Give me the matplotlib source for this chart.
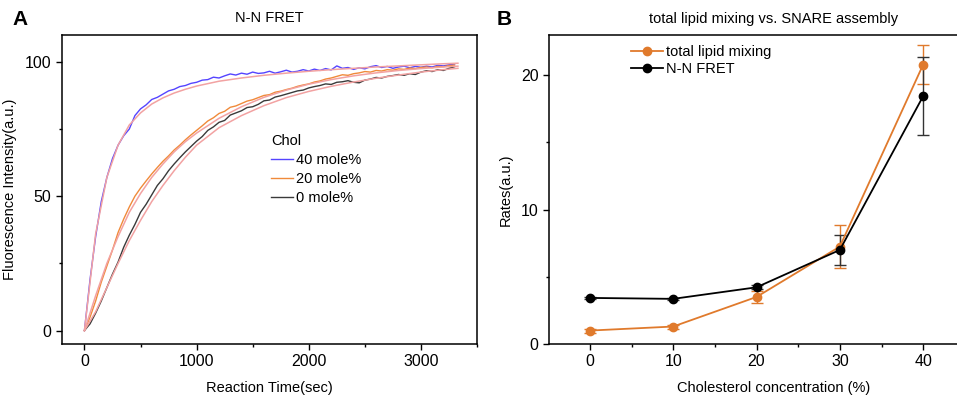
import matplotlib
matplotlib.use('Agg')
import numpy as np
import matplotlib.pyplot as plt
from matplotlib.ticker import MultipleLocator

plt.rcParams['font.family'] = ['Liberation Sans', 'DejaVu Sans']

# ---- panel A: N-N FRET traces, sampled every 50 s ----
t_data = np.arange(0, 3350, 50)
chol40 = [0, 19, 35, 48, 57, 64, 69, 72.5, 75, 80, 82.5, 84, 86, 86.8, 88, 89.2, 89.8,
          90.8, 91.2, 92, 92.4, 93.2, 93.4, 94.3, 94, 94.8, 95.5, 95.1, 95.8, 95.4, 96.2,
          95.7, 95.9, 96.5, 95.8, 96.3, 96.9, 96.2, 96.5, 97.1, 96.6, 97.3, 96.8, 97.5, 97,
          98.5, 97.6, 97.9, 97.2, 97.8, 97.4, 98.2, 98.6, 97.9, 98.3, 97.6, 98.1, 98.4, 97.8,
          98.3, 98.0, 98.4, 98.1, 98.7, 98.5, 98.9, 99.2]
chol20 = [0, 5, 11, 18, 24, 30, 36.5, 41.5, 46, 50, 53, 55.7, 58.3, 60.7, 63, 65, 67.2,
          69, 71, 72.8, 74.5, 76.2, 78, 79.2, 80.8, 81.6, 83.1, 83.6, 84.5, 85.4, 85.9,
          86.7, 87.5, 87.8, 88.7, 89.1, 89.7, 90.2, 90.9, 91.4, 91.8, 92.5, 92.9, 93.6, 94.0,
          94.6, 95.2, 95.0, 95.6, 95.9, 96.4, 96.2, 96.8, 96.6, 97.1, 96.9, 97.4, 97.2, 97.7,
          97.5, 97.9, 98.1, 97.8, 98.3, 98.2, 98.6, 98.8]
chol0 = [0, 2.5, 6.5, 11, 16, 21, 25.5, 31, 35.5, 39.5, 44, 47, 50.5, 54, 56.5, 59.5, 62,
         64.3, 66.5, 68.5, 70.5, 72.2, 74.5, 75.8, 77.5, 78.2, 80.2, 81, 81.8, 83, 83.3,
         84.2, 85.5, 85.8, 86.9, 87.4, 88, 88.6, 89.2, 89.5, 90.3, 90.8, 91.2, 91.8, 91.6,
         92.4, 92.6, 93.0, 92.4, 92.2, 93.2, 93.6, 94.2, 94.0, 94.6, 94.9, 95.3, 95.0, 95.6,
         95.3, 96.2, 96.7, 96.4, 97.1, 96.8, 97.6, 98.2]

# fitted curves
t_fit = [0, 100, 200, 300, 400, 500, 600, 700, 800, 900, 1000, 1200, 1400, 1600, 1800,
         2000, 2200, 2400, 2600, 2800, 3000, 3200, 3330]
fit40 = [0, 36, 57, 69, 76.5, 81, 84.3, 86.6, 88.4, 89.8, 91, 92.8, 94, 95, 95.8,
         96.5, 97.1, 97.6, 98.1, 98.5, 98.9, 99.3, 99.5]
fit20 = [0, 13, 25, 35, 44, 51, 57, 62, 66.5, 70.3, 73.5, 79, 83.3, 86.8, 89.5,
         91.7, 93.4, 94.8, 95.9, 96.8, 97.5, 98.1, 98.4]
fit0 = [0, 7, 16, 25, 33.5, 41, 48, 54, 59.5, 64.5, 69, 75.5, 80, 83.7, 86.7,
        89, 90.9, 92.5, 93.9, 95.1, 96.2, 97.1, 97.6]

# ---- panel B: rates ----
chol_pct = [0, 10, 20, 30, 40]
lipid_rate = [1.0, 1.3, 3.5, 7.25, 20.8]
lipid_err = [0.15, 0.15, 0.45, 1.6, 1.45]
fret_rate = [3.43, 3.36, 4.22, 7.0, 18.45]
fret_err = [0.1, 0.1, 0.15, 1.1, 2.9]

fig = plt.figure(figsize=(9.57, 3.99), dpi=100)
W, H = 957, 399

def px_axes(x0, y0, x1, y1):
    return fig.add_axes([x0 / W, 1 - y1 / H, (x1 - x0) / W, (y1 - y0) / H])

def style(ax):
    for s in ax.spines.values():
        s.set_linewidth(1.1)
    ax.tick_params(which='major', direction='out', length=4, width=1, labelsize=11.5,
                   top=False, right=False)
    ax.tick_params(which='minor', direction='out', length=2.5, width=1,
                   top=False, right=False)

# panel A
ax1 = px_axes(62, 35, 477, 344)
pink = '#F2A2A2'
ax1.plot(t_data, chol40, color='#5544FF', lw=1.0, label='40 mole%')
ax1.plot(t_data, chol20, color='#F08A3A', lw=1.0, label='20 mole%')
ax1.plot(t_data, chol0, color='#3A3A3A', lw=1.0, label='0 mole%')
for f in (fit40, fit20, fit0):
    ax1.plot(t_fit, f, color=pink, lw=1.1)
ax1.set_xlim(-200, 3500)
ax1.set_ylim(-5, 110)
ax1.set_xticks([0, 1000, 2000, 3000])
ax1.set_yticks([0, 50, 100])
ax1.xaxis.set_minor_locator(MultipleLocator(500))
ax1.yaxis.set_minor_locator(MultipleLocator(25))
style(ax1)
ax1.set_xlabel('Reaction Time(sec)', fontsize=10.5, labelpad=8)
ax1.set_ylabel('Fluorescence Intensity(a.u.)', fontsize=10.5, labelpad=6)
ax1.set_title('N-N FRET', fontsize=10.5, pad=9)
leg = ax1.legend(title='Chol', loc='upper left', bbox_to_anchor=(0.49, 0.70),
                 frameon=False, fontsize=10.5, title_fontsize=10.5, handlelength=1.5,
                 handletextpad=0.2, labelspacing=0.35, borderaxespad=0)
leg._legend_box.align = 'left'
fig.text(12 / W, 1 - 25 / H, 'A', fontsize=15, fontweight='bold')

# panel B
ax2 = px_axes(549, 35, 999, 344)
orange = '#E07A2C'
eb1 = ax2.errorbar(chol_pct, lipid_rate, yerr=lipid_err, color=orange, marker='o', ms=6,
                   lw=1.3, capsize=4, elinewidth=1.0, capthick=1.0)
eb2 = ax2.errorbar(chol_pct, fret_rate, yerr=fret_err, color='black', ecolor='#333333',
                   marker='o', ms=6, lw=1.3, capsize=4, elinewidth=1.0, capthick=1.0)
ax2.set_xlim(-4.9, 49.1)
ax2.set_ylim(0, 23)
ax2.set_xticks([0, 10, 20, 30, 40])
ax2.set_yticks([0, 10, 20])
ax2.xaxis.set_minor_locator(MultipleLocator(5))
ax2.yaxis.set_minor_locator(MultipleLocator(5))
ax2.spines['right'].set_visible(False)
style(ax2)
ax2.set_xlabel('Cholesterol concentration (%)', fontsize=10.5, labelpad=8)
ax2.set_ylabel('Rates(a.u.)', fontsize=10.5, labelpad=6)
ax2.set_title('total lipid mixing vs. SNARE assembly', fontsize=10.5, pad=9)
ax2.legend([eb1[0], eb2[0]], ['total lipid mixing', 'N-N FRET'], loc='upper left',
           bbox_to_anchor=(0.17, 0.985), frameon=False, fontsize=10.5, handlelength=2.2,
           handletextpad=0.2, labelspacing=0.15, borderaxespad=0)
fig.text(497 / W, 1 - 25 / H, 'B', fontsize=15, fontweight='bold')

fig.savefig('out.png', dpi=100)
